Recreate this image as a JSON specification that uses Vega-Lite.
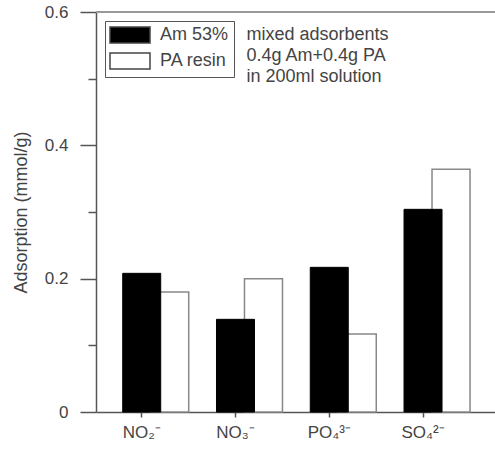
{
  "$schema": "https://vega.github.io/schema/vega-lite/v6.json",
  "width": 399,
  "height": 400,
  "autosize": {"type": "none"},
  "padding": {"left": 96, "top": 12, "right": 0, "bottom": 38},
  "background": "white",
  "config": {
    "view": {"stroke": null},
    "font": "Liberation Sans",
    "axis": {"domainColor": "#555", "tickColor": "#555", "domainWidth": 1.5, "tickWidth": 1.5, "labelColor": "#444", "titleColor": "#444", "grid": false, "labelFont": "Liberation Sans", "titleFont": "Liberation Sans"}
  },
  "datasets": {
    "bars": [
      {"ion": "NO₂⁻", "series": "Am 53%", "value": 0.208},
      {"ion": "NO₂⁻", "series": "PA resin", "value": 0.180},
      {"ion": "NO₃⁻", "series": "Am 53%", "value": 0.139},
      {"ion": "NO₃⁻", "series": "PA resin", "value": 0.200},
      {"ion": "PO₄³⁻", "series": "Am 53%", "value": 0.217},
      {"ion": "PO₄³⁻", "series": "PA resin", "value": 0.117},
      {"ion": "SO₄²⁻", "series": "Am 53%", "value": 0.304},
      {"ion": "SO₄²⁻", "series": "PA resin", "value": 0.364}
    ],
    "note": [
      {"ion": "NO₃⁻", "value": 0.5655, "top": 0.6}
    ]
  },
  "data": {"name": "bars"},
  "encoding": {
    "x": {
      "field": "ion", "type": "nominal", "sort": null,
      "scale": {"type": "band", "paddingInner": 0.025, "paddingOuter": 0.14, "align": 0},
      "axis": {"title": null, "labelAngle": 0, "labelFontSize": 17, "labelPadding": 7, "tickSize": 5, "domainColor": "#555"}
    },
    "y": {
      "field": "value", "type": "quantitative",
      "scale": {"domain": [0, 0.6], "nice": false},
      "axis": {
        "title": "Adsorption (mmol/g)", "titleFontSize": 18, "titleFontWeight": "normal", "titlePadding": 14,
        "values": [0, 0.1, 0.2, 0.3, 0.4, 0.5, 0.6],
        "labelExpr": "round(datum.value*10) % 2 == 1 ? '' : format(datum.value, '~g')",
        "labelFontSize": 17, "labelPadding": 12,
        "tickSize": {"condition": {"test": "round(datum.value*10) % 2 == 1", "value": 8}, "value": 16}
      }
    },
    "fill": {
      "field": "series", "type": "nominal",
      "scale": {"domain": ["Am 53%", "PA resin"], "range": ["black", "white"]},
      "legend": {
        "title": null, "orient": "top-left", "offset": 9,
        "symbolType": "M-2.5,-1H2.5V1H-2.5Z", "symbolSize": 256,
        "symbolStrokeColor": "#444", "symbolStrokeWidth": 1.5,
        "symbolOffset": 11, "labelOffset": 21, "labelFontSize": 18, "labelColor": "#444",
        "rowPadding": 4, "padding": 5, "strokeColor": "#555"
      }
    }
  },
  "layer": [
    {
      "transform": [{"filter": "datum.series == 'PA resin'"}],
      "mark": {"type": "bar", "width": 38, "xOffset": 28, "stroke": "#888", "strokeWidth": 1.5}
    },
    {
      "transform": [{"filter": "datum.series == 'Am 53%'"}],
      "mark": {"type": "bar", "width": 38, "stroke": "black", "strokeWidth": 1}
    },
    {
      "data": {"name": "note"},
      "mark": {"type": "rule", "color": "#999", "strokeWidth": 2},
      "encoding": {"y": {"field": "top", "type": "quantitative"}, "x": null, "fill": null}
    },
    {
      "data": {"name": "note"},
      "mark": {"type": "text", "text": ["mixed adsorbents", "0.4g Am+0.4g PA", "in 200ml solution"], "align": "left", "baseline": "middle", "fontSize": 18, "lineHeight": 21, "color": "#444", "dx": 11},
      "encoding": {"fill": null}
    }
  ]
}
